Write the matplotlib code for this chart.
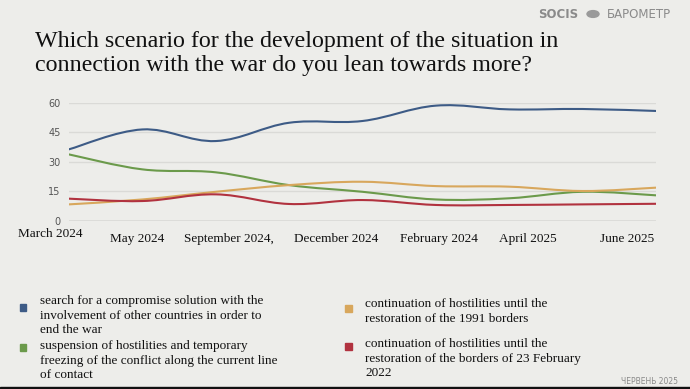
import matplotlib
matplotlib.use("Agg")
import matplotlib.pyplot as plt
import numpy as np
from matplotlib.path import Path
from matplotlib.patches import PathPatch, Circle

# survey waves (9 points), values in %
compromise = [36.3, 46.4, 40.5, 49.8, 50.7, 58.5, 56.6, 56.8, 55.8]
freezing = [33.7, 26.1, 24.6, 18.1, 14.7, 10.8, 11.4, 14.7, 12.9]
borders_1991 = [8.3, 10.8, 14.7, 18.1, 19.8, 17.6, 17.3, 15.1, 16.8]
borders_2022 = [11.2, 10.0, 13.4, 8.5, 10.5, 8.0, 8.0, 8.3, 8.6]

x_labels = ["March 2024", "May 2024", "September 2024,", "December 2024",
            "February 2024", "April 2025", "June 2025"]
x_label_pos = [-0.25, 0.93, 2.18, 3.64, 5.04, 6.25, 7.6]
y_ticks = [0, 15, 30, 45, 60]

legend_labels = [
    "search for a compromise solution with the\ninvolvement of other countries in order to\nend the war",
    "suspension of hostilities and temporary\nfreezing of the conflict along the current line\nof contact",
    "continuation of hostilities until the\nrestoration of the 1991 borders",
    "continuation of hostilities until the\nrestoration of the borders of 23 February\n2022",
]
colors = ["#3d5b86", "#6b9a4b", "#d8a75c", "#b1323f"]
bg = "#ededea"


def smooth_path(xs, ys, k=0.18):
    # cubic bezier through the data points (catmull-rom style handles)
    verts = [(xs[0], ys[0])]
    codes = [Path.MOVETO]
    n = len(xs)
    for i in range(n - 1):
        p0 = max(i - 1, 0)
        p3 = min(i + 2, n - 1)
        c1 = (xs[i] + (xs[i + 1] - xs[p0]) * k, ys[i] + (ys[i + 1] - ys[p0]) * k)
        c2 = (xs[i + 1] - (xs[p3] - xs[i]) * k, ys[i + 1] - (ys[p3] - ys[i]) * k)
        verts += [c1, c2, (xs[i + 1], ys[i + 1])]
        codes += [Path.CURVE4] * 3
    return Path(verts, codes)


W, H = 690, 389
fig = plt.figure(figsize=(W / 100, H / 100), dpi=100, facecolor=bg)

ax = fig.add_axes([69 / W, 1 - 220.7 / H, (656 - 69) / W, (220.7 - 102.7) / H])
ax.set_facecolor(bg)
ax.set_xlim(0, 8)
ax.set_ylim(0, 60)
for s in ax.spines.values():
    s.set_visible(False)
ax.set_xticks([])
ax.set_yticks(y_ticks)
ax.set_yticklabels([str(t) for t in y_ticks], fontsize=7, color="#555555",
                   family="DejaVu Sans")
ax.tick_params(axis="y", length=0, pad=6)
for t in y_ticks[1:]:
    ax.axhline(t, color="#dadad7", lw=1, zorder=0)
ax.axhline(0, color="#9a9a98", lw=1, zorder=1)

xs = np.arange(len(compromise))
for series, c in zip([compromise, freezing, borders_1991, borders_2022], colors):
    ax.add_patch(PathPatch(smooth_path(xs, series), fill=False, edgecolor=c,
                           lw=1.5, transform=ax.transData, zorder=3,
                           capstyle="round", joinstyle="round"))

for i, (lab, pos) in enumerate(zip(x_labels, x_label_pos)):
    ax.text(pos, -7.0 if i == 0 else -9.1, lab, ha="center", va="center",
            fontsize=9.5, family="Liberation Serif", color="#111111",
            clip_on=False)

# title
fig.text(35 / W, 1 - 70.7 / H,
         "Which scenario for the development of the situation in\n"
         "connection with the war do you lean towards more?",
         fontsize=17.3, family="Liberation Serif", color="#111111",
         va="baseline", ha="left", linespacing=1.18)

# header logo
fig.text(538 / W, 1 - 14 / H, "SOCIS", fontsize=8.5, fontweight="bold",
         color="#8a8a8a", family="DejaVu Sans", va="center", ha="left")
fig.add_artist(Circle((593 / W, 1 - 14 / H), 6 / W, color="#9a9a9a",
                      transform=fig.transFigure))
fig.text(607 / W, 1 - 14 / H, "БАРОМЕТР", fontsize=8.5, color="#8a8a8a",
         family="DejaVu Sans", va="center", ha="left")

# legend
leg_pos = [(23, 302, 307), (23, 347, 347), (348, 305, 308), (348, 345, 346)]
for lab, c, (sx, ty, sy) in zip(legend_labels, colors, leg_pos):
    fig.add_artist(plt.Rectangle(((sx - 3.5) / W, 1 - (sy + 3.5) / H), 7 / W, 7 / H,
                                 color=c, transform=fig.transFigure))
    fig.text((sx + 17) / W, 1 - (ty - 7) / H, lab, fontsize=9.5,
             family="Liberation Serif", color="#111111", va="top", ha="left",
             linespacing=1.3)

fig.text(678 / W, 1 - 382 / H, "ЧЕРВЕНЬ 2025", fontsize=5.5, color="#8a8a8a",
         family="DejaVu Sans", ha="right", va="center")
fig.add_artist(plt.Rectangle((0, 0), 1, 2 / H, color="#111111",
                             transform=fig.transFigure))

fig.savefig("out.png", dpi=100, facecolor=bg)
